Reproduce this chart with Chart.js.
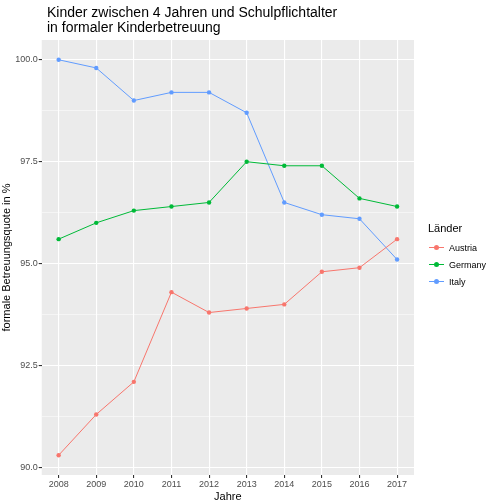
<!DOCTYPE html>
<html>
<head>
<meta charset="utf-8">
<script src="https://cdn.jsdelivr.net/npm/chart.js@4"></script>
<style>
  body { margin: 0; background: #fff; font-family: "Liberation Sans", Arial, sans-serif; }
  #wrap { position: relative; width: 504px; height: 504px; }
  #title { position: absolute; left: 47px; top: 5px; font-size: 14px; color: #000; line-height: 15px; }
  #legend { position: absolute; left: 428px; top: 222px; font-size: 10px; color: #000; }
  #legend .ttl { font-size: 11px; margin-bottom: 5px; }
  #legend .row { height: 17px; display: flex; align-items: center; font-size: 9px; }
  #legend .key { position: relative; width: 17px; height: 17px; margin-right: 4px; }
  #legend .key i { position: absolute; left: 1px; right: 1px; top: 8px; height: 1px; }
  #legend .key b { position: absolute; left: 6px; top: 6px; width: 5px; height: 5px; border-radius: 50%; }
</style>
</head>
<body>
<div id="wrap">
  <canvas id="myChart" width="504" height="504"></canvas>
  <div id="title">Kinder zwischen 4 Jahren und Schulpflichtalter<br>in formaler Kinderbetreuung</div>
  <div id="legend"></div>
</div>
<script>
const years = [2008, 2009, 2010, 2011, 2012, 2013, 2014, 2015, 2016, 2017];
const austria = [90.3, 91.3, 92.1, 94.3, 93.8, 93.9, 94.0, 94.8, 94.9, 95.6];
const germany = [95.6, 96.0, 96.3, 96.4, 96.5, 97.5, 97.4, 97.4, 96.6, 96.4];
const italy = [100.0, 99.8, 99.0, 99.2, 99.2, 98.7, 96.5, 96.2, 96.1, 95.1];
const yTicks = [90.0, 92.5, 95.0, 97.5, 100.0];
const countries = ["Austria", "Germany", "Italy"];
const colors = ["#F8766D", "#00BA38", "#619CFF"];

const series = [austria, germany, italy];

const panelBg = {
  id: "panelBg",
  beforeDraw(chart) {
    const { ctx, chartArea: a } = chart;
    ctx.save();
    ctx.fillStyle = "#EBEBEB";
    ctx.fillRect(a.left, a.top, a.right - a.left, a.bottom - a.top);
    ctx.restore();
  },
};

const data = {
  datasets: series.map((vals, i) => ({
    label: countries[i],
    data: years.map((y, j) => ({ x: y, y: vals[j] })),
    borderColor: colors[i],
    backgroundColor: colors[i],
    borderWidth: 1,
    pointRadius: 2.2,
    pointBorderWidth: 0,
    tension: 0,
  })),
};

const config = {
  type: "line",
  data: data,
  plugins: [panelBg],
  options: {
    responsive: false,
    animation: false,
    layout: { padding: { top: 40, right: 90, left: 0, bottom: 0 } },
    plugins: { legend: { display: false }, tooltip: { enabled: false } },
    scales: {
      x: {
        type: "linear",
        min: 2007.55,
        max: 2017.45,
        afterBuildTicks: (axis) => {
          axis.ticks = years.map((v) => ({ value: v }));
        },
        ticks: { color: "#4D4D4D", font: { size: 9 }, padding: 1, callback: (v) => String(v) },
        grid: { color: "#FFFFFF", lineWidth: 1.1, drawTicks: true, tickLength: 3, tickColor: "#333333" },
        border: { display: false },
        title: { display: true, text: "Jahre", color: "#000", font: { size: 11 }, padding: { top: 0, bottom: 0 } },
      },
      y: {
        min: 89.815,
        max: 100.485,
        afterBuildTicks: (axis) => {
          const t = [];
          for (let v = 90; v <= 100.01; v += 1.25) t.push({ value: Math.round(v * 100) / 100 });
          axis.ticks = t;
        },
        ticks: {
          color: "#4D4D4D",
          font: { size: 9 },
          padding: 1,
          callback: (v) => (yTicks.includes(v) ? v.toFixed(1) : ""),
        },
        grid: {
          color: "#FFFFFF",
          lineWidth: (c) => (c.tick && yTicks.includes(c.tick.value) ? 1.1 : 0.5),
          tickLength: 3,
          tickColor: (c) => (c.tick && yTicks.includes(c.tick.value) ? "#333333" : "rgba(0,0,0,0)"),
        },
        border: { display: false },
        title: { display: true, text: "formale Betreuungsquote in %", color: "#000", font: { size: 11 }, padding: { top: 0, bottom: 1 } },
      },
    },
  },
};

new Chart(document.getElementById("myChart"), config);

const legend = document.getElementById("legend");
legend.innerHTML =
  '<div class="ttl">Länder</div>' +
  countries
    .map(
      (c, i) =>
        `<div class="row"><span class="key"><i style="background:${colors[i]}"></i><b style="background:${colors[i]}"></b></span>${c}</div>`
    )
    .join("");
</script>
</body>
</html>
